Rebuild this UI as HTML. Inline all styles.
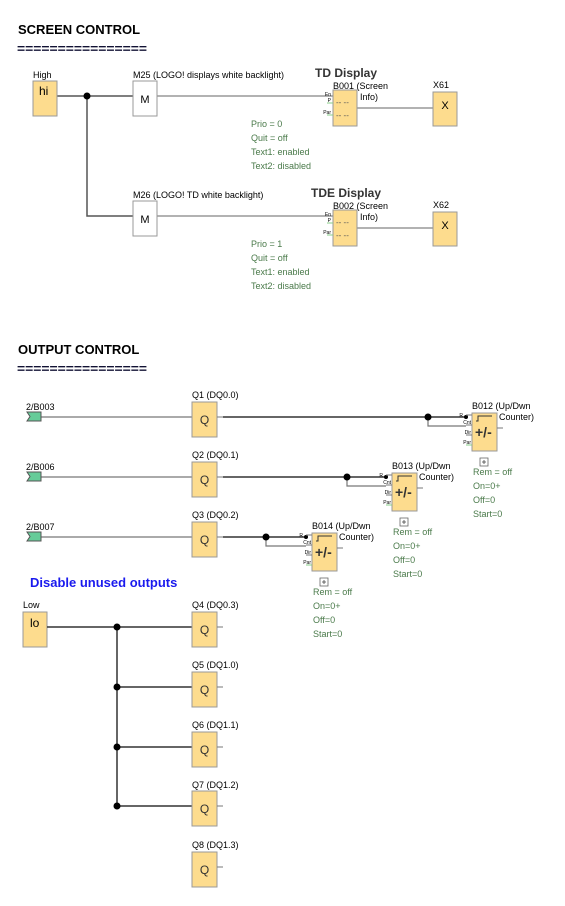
<!DOCTYPE html><html><head><style>body{margin:0;background:#fff}svg{display:block;font-family:"Liberation Sans",sans-serif}</style></head><body>
<svg width="565" height="906" viewBox="0 0 565 906" xmlns="http://www.w3.org/2000/svg">
<defs>
<g id="cnt">
<rect x="0" y="0" width="25" height="38" fill="#fddc8e" stroke="#999" stroke-width="1"/>
<path d="M4 8h2v-5h2M8 3h12" stroke="#333" fill="none" stroke-width="1"/>
<text x="3" y="24" font-size="14" fill="#333" font-weight="bold">+/-</text>
<line x1="25" y1="15" x2="31" y2="15" stroke="#777"/>
<line x1="-6" y1="2" x2="0" y2="2" stroke="#777"/>
<line x1="-6" y1="12" x2="0" y2="12" stroke="#777"/>
<line x1="-6" y1="22" x2="0" y2="22" stroke="#777"/>
<line x1="-6" y1="32" x2="0" y2="32" stroke="#8c8"/>
<text x="-9" y="4" font-size="5" fill="#000" text-anchor="end">R</text>
<text x="-1" y="11" font-size="5" fill="#000" text-anchor="end">Cnt</text>
<text x="-1" y="21" font-size="5" fill="#000" text-anchor="end">Dir</text>
<text x="-1" y="31" font-size="5" fill="#000" text-anchor="end">Par</text>
<rect x="8" y="45" width="8" height="8" fill="#fff" stroke="#666" stroke-width="0.8"/>
<path d="M12 47v4M10 49h4" stroke="#444" stroke-width="0.8"/>
</g>
<g id="scr">
<rect x="0" y="0" width="24" height="36" fill="#fddc8e" stroke="#999"/>
<text x="3" y="15" font-size="8" fill="#555">-- --</text>
<text x="3" y="28" font-size="8" fill="#555">-- --</text>
<line x1="-6" y1="13" x2="0" y2="13" stroke="#8c8"/>
<line x1="-6" y1="25" x2="0" y2="25" stroke="#8c8"/>
<text x="-2" y="6" font-size="5" text-anchor="end">En</text>
<text x="-2" y="12" font-size="5" text-anchor="end">P</text>
<text x="-2" y="24" font-size="5" text-anchor="end">Par</text>
</g>
<g id="q"><rect x="0" y="0" width="25" height="35" fill="#fddc8e" stroke="#999"/><text x="12.5" y="22" font-size="12" text-anchor="middle" fill="#333">Q</text><line x1="25" y1="15" x2="31" y2="15" stroke="#777"/></g>
</defs>
<g font-size="13" font-weight="bold" fill="#000">
<text x="18" y="34">SCREEN CONTROL</text>
<text x="18" y="354">OUTPUT CONTROL</text>
</g>
<g font-size="13" font-weight="bold" fill="#113">
<text x="17" y="53" textLength="130" lengthAdjust="spacingAndGlyphs">================</text>
<text x="17" y="373" textLength="130" lengthAdjust="spacingAndGlyphs">================</text>
</g>
<g stroke="#555" stroke-width="1.5" fill="none">
<path d="M57 96H133"/>
<path d="M87 96V216H133"/>
</g>
<g stroke="#666" stroke-width="1" fill="none">
<path d="M157 96H333"/><path d="M157 216H333"/>
<path d="M357 108H433"/><path d="M357 228H433"/>
</g>
<circle cx="87" cy="96" r="3.5" fill="#000"/>
<text x="33" y="78" font-size="9">High</text>
<rect x="33" y="81" width="24" height="35" fill="#fddc8e" stroke="#999"/>
<text x="39" y="95" font-size="12">hi</text>
<rect x="133" y="81" width="24" height="35" fill="#fff" stroke="#999"/><text x="145" y="103" font-size="11" text-anchor="middle">M</text>
<rect x="133" y="201" width="24" height="35" fill="#fff" stroke="#999"/><text x="145" y="223" font-size="11" text-anchor="middle">M</text>
<text x="133" y="78" font-size="9">M25 (LOGO! displays white backlight)</text>
<text x="133" y="198" font-size="9">M26 (LOGO! TD white backlight)</text>
<text x="315" y="77" font-size="12" font-weight="bold" fill="#333">TD Display</text>
<text x="311" y="197" font-size="12" font-weight="bold" fill="#333">TDE Display</text>
<text x="333" y="89" font-size="9">B001 (Screen</text><text x="360" y="100" font-size="9">Info)</text>
<text x="333" y="209" font-size="9">B002 (Screen</text><text x="360" y="220" font-size="9">Info)</text>
<use href="#scr" x="333" y="90"/><use href="#scr" x="333" y="210"/>
<text x="433" y="88" font-size="9">X61</text><text x="433" y="208" font-size="9">X62</text>
<rect x="433" y="92" width="24" height="34" fill="#fddc8e" stroke="#999"/><text x="445" y="109" font-size="11" text-anchor="middle">X</text>
<rect x="433" y="212" width="24" height="34" fill="#fddc8e" stroke="#999"/><text x="445" y="229" font-size="11" text-anchor="middle">X</text>
<g font-size="9" fill="#4a7a4a">
<text x="251" y="127">Prio = 0</text><text x="251" y="141">Quit = off</text><text x="251" y="155">Text1: enabled</text><text x="251" y="169">Text2: disabled</text>
<text x="251" y="247">Prio = 1</text><text x="251" y="261">Quit = off</text><text x="251" y="275">Text1: enabled</text><text x="251" y="289">Text2: disabled</text>
</g>
<g stroke="#777" stroke-width="1.2" fill="none">
<path d="M41 417H192"/><path d="M41 477H192"/><path d="M41 537H192"/>
<path d="M428 417V426H466"/><path d="M347 477V486H386"/><path d="M266 537V546H306"/>
</g>
<g stroke="#333" stroke-width="1.5" fill="none">
<path d="M223 417H466"/><path d="M223 477H386"/><path d="M223 537H306"/>
</g>
<g fill="#000"><circle cx="428" cy="417" r="3.5"/><circle cx="347" cy="477" r="3.5"/><circle cx="266" cy="537" r="3.5"/>
<circle cx="466" cy="417" r="2"/><circle cx="386" cy="477" r="2"/><circle cx="306" cy="537" r="2"/></g>
<g fill="#6c9" stroke="#555"><path d="M27 412h14v9h-14l3-4.5z"/><path d="M27 472h14v9h-14l3-4.5z"/><path d="M27 532h14v9h-14l3-4.5z"/></g>
<g font-size="9"><text x="26" y="410">2/B003</text><text x="26" y="470">2/B006</text><text x="26" y="530">2/B007</text>
<text x="192" y="398">Q1 (DQ0.0)</text><text x="192" y="458">Q2 (DQ0.1)</text><text x="192" y="518">Q3 (DQ0.2)</text>
<text x="192" y="608">Q4 (DQ0.3)</text><text x="192" y="668">Q5 (DQ1.0)</text><text x="192" y="728">Q6 (DQ1.1)</text><text x="192" y="788">Q7 (DQ1.2)</text><text x="192" y="848">Q8 (DQ1.3)</text>
<text x="472" y="409">B012 (Up/Dwn</text><text x="499" y="420">Counter)</text>
<text x="392" y="469">B013 (Up/Dwn</text><text x="419" y="480">Counter)</text>
<text x="312" y="529">B014 (Up/Dwn</text><text x="339" y="540">Counter)</text>
</g>
<use href="#q" x="192" y="402"/><use href="#q" x="192" y="462"/><use href="#q" x="192" y="522"/>
<use href="#cnt" x="472" y="413"/><use href="#cnt" x="392" y="473"/><use href="#cnt" x="312" y="533"/>
<g font-size="9" fill="#4a7a4a">
<text x="473" y="475">Rem = off</text><text x="473" y="489">On=0+</text><text x="473" y="503">Off=0</text><text x="473" y="517">Start=0</text>
<text x="393" y="535">Rem = off</text><text x="393" y="549">On=0+</text><text x="393" y="563">Off=0</text><text x="393" y="577">Start=0</text>
<text x="313" y="595">Rem = off</text><text x="313" y="609">On=0+</text><text x="313" y="623">Off=0</text><text x="313" y="637">Start=0</text>
</g>
<text x="30" y="587" font-size="13" font-weight="bold" fill="#1a1aee">Disable unused outputs</text>
<text x="23" y="608" font-size="9">Low</text>
<rect x="23" y="612" width="24" height="35" fill="#fddc8e" stroke="#999"/><text x="30" y="627" font-size="12">lo</text>
<g stroke="#333" stroke-width="1.5" fill="none"><path d="M47 627H192"/><path d="M117 627V806"/><path d="M117 687H192M117 747H192M117 806H192"/></g>
<g fill="#000"><circle cx="117" cy="627" r="3.5"/><circle cx="117" cy="687" r="3.5"/><circle cx="117" cy="747" r="3.5"/><circle cx="117" cy="806" r="3.5"/></g>
<use href="#q" x="192" y="612"/><use href="#q" x="192" y="672"/><use href="#q" x="192" y="732"/><use href="#q" x="192" y="791"/><use href="#q" x="192" y="852"/>
</svg></body></html>
